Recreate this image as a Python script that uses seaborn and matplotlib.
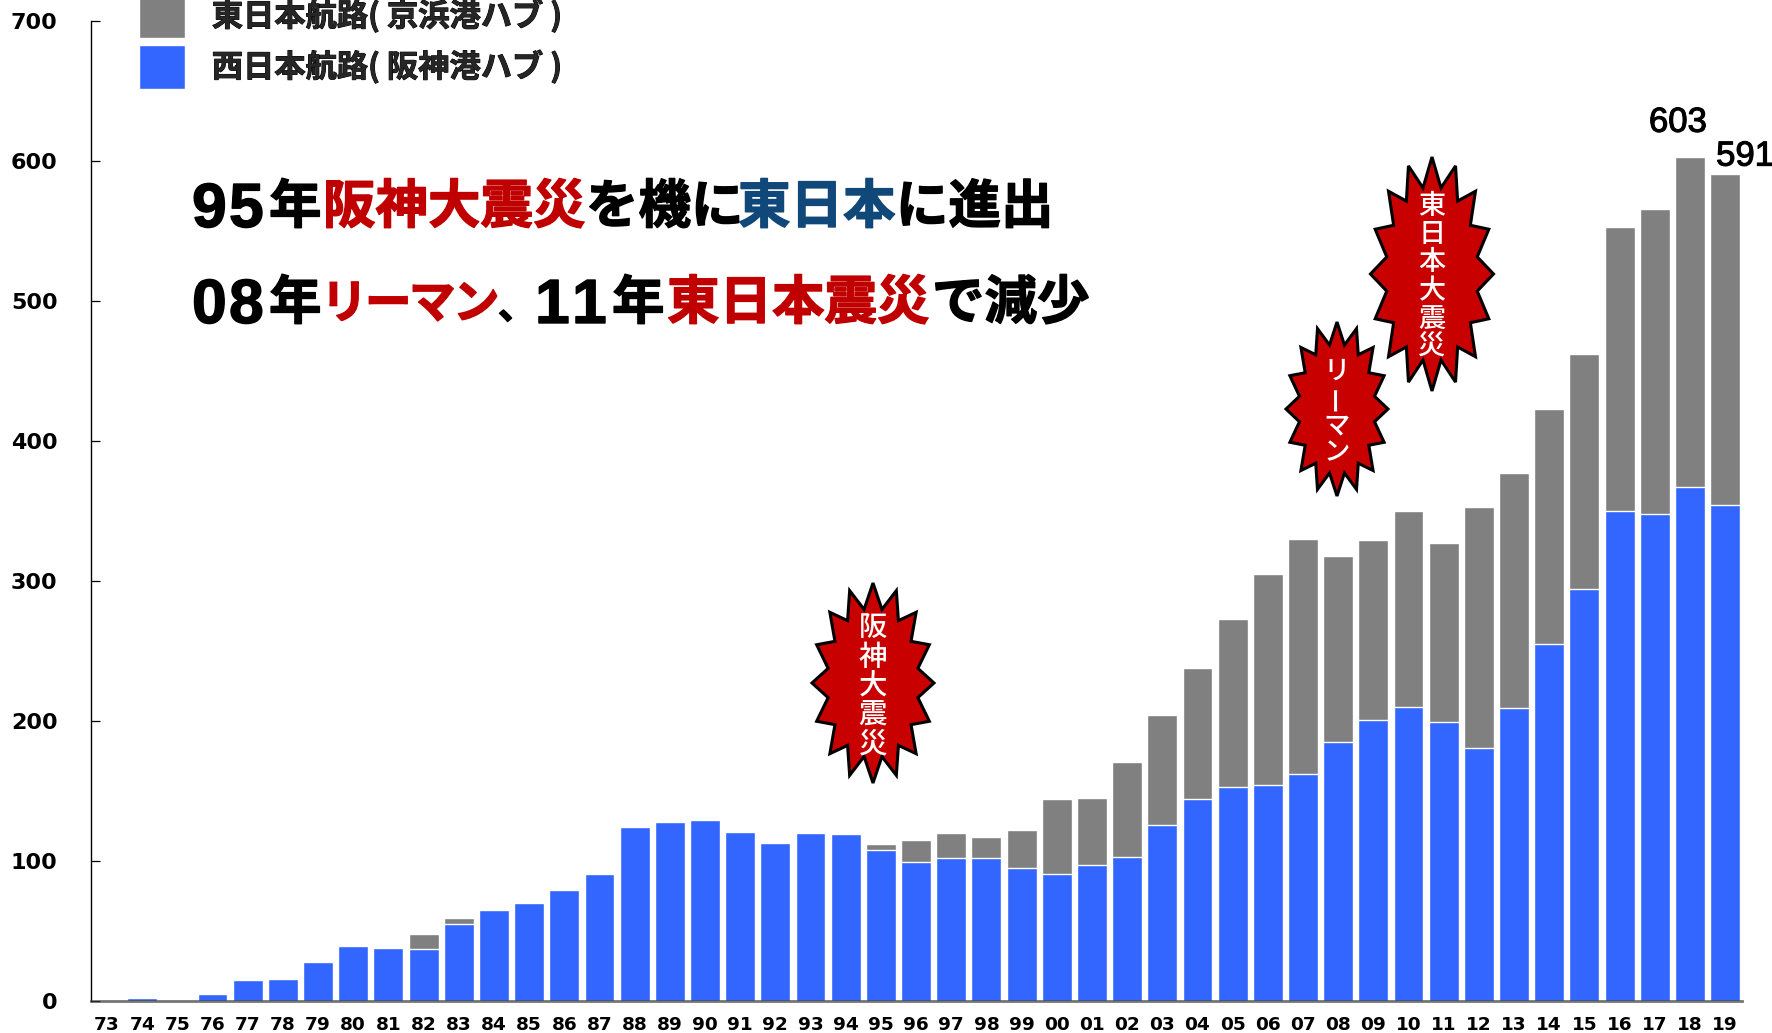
import matplotlib
matplotlib.use("Agg")
import numpy as np
import pandas as pd
import matplotlib.pyplot as plt
import matplotlib.patheffects as pe
import seaborn as sns
from matplotlib.patches import Polygon

# Container throughput by fiscal year
years = ["73","74","75","76","77","78","79","80","81","82","83","84","85","86","87","88",
         "89","90","91","92","93","94","95","96","97","98","99","00","01","02","03","04",
         "05","06","07","08","09","10","11","12","13","14","15","16","17","18","19"]
west = [1,2,1,5,15,16,28,39,38,37,55,65,70,79,91,124,
        128,129,121,113,120,119,108,99,102,102,95,91,97,103,126,144,
        153,154,162,185,201,210,199,181,209,255,294,350,348,367,354]
total = [1,2,1,5,15,16,28,39,38,48,59,65,70,79,91,124,
         128,129,121,113,120,120,112,115,120,117,122,144,145,171,204,238,
         273,305,330,318,329,350,327,353,377,423,462,553,566,603,591]
east_label = "東日本航路( 京浜港ハブ )"
west_label = "西日本航路( 阪神港ハブ )"
peak_labels = {"18": 603, "19": 591}

W, H = 1772, 1033
GRAY, BLUE, RED, NAVY = "#808080", "#3366FF", "#C00000", "#10487A"
CJK = ["Noto Sans CJK JP", "DejaVu Sans"]

sns.set_theme(style="ticks")
plt.rcParams["font.family"] = CJK

df = pd.DataFrame({"year": years, "west": west, "total": total})

fig = plt.figure(figsize=(W / 100, H / 100), dpi=100, facecolor="white")
ax = fig.add_axes([91 / W, 1 - 1001 / H, (1742 - 91) / W, (1001 - 21) / H])

sns.barplot(data=df, x="year", y="total", color=GRAY, saturation=1, width=0.85,
            label=east_label, ax=ax, zorder=2)
sns.barplot(data=df, x="year", y="west", color=BLUE, saturation=1, width=0.85,
            label=west_label, ax=ax, zorder=2)

ax.set_xlim(-0.455, len(years) - 0.52)
ax.set_ylim(0, 700)
ax.set_yticks(range(0, 701, 100))
ax.set_xlabel("")
ax.set_ylabel("")
sns.despine(ax=ax)
ax.spines["left"].set(color="black", linewidth=1.0)
ax.spines["bottom"].set(color="#3a3a3a", linewidth=2.0, alpha=0.7, zorder=5)
ax.tick_params(axis="y", direction="in", length=6.5, width=0.9, color="black", pad=24)
ax.tick_params(axis="x", length=0, pad=11)
for lab in ax.get_yticklabels():
    lab.set(family="DejaVu Sans", weight="bold", fontsize=16, color="black")
for lab in ax.get_xticklabels():
    lab.set(family="DejaVu Sans", weight="bold", fontsize=13.3, color="black")

leg = ax.legend(loc="upper left", bbox_to_anchor=(139 / W, 1 + 6 / H), bbox_transform=fig.transFigure,
                frameon=False, borderpad=0, borderaxespad=0, handlelength=1.47, handleheight=1.79,
                labelspacing=0.22, handletextpad=0.86,
                prop={"family": CJK, "weight": "bold", "size": 22.5})
for t in leg.get_texts():
    t.set_path_effects([pe.withStroke(linewidth=0.7, foreground="black")])

# Value labels over the two most recent years
for (yr, val), dx, dy in zip(peak_labels.items(), (-12, 20), (25, 8)):
    ax.annotate(str(val), xy=(years.index(yr), val), xytext=(dx / 1.389, dy / 1.389),
                textcoords="offset points", ha="center", va="baseline",
                family="Liberation Sans", fontsize=25, color="black",
                annotation_clip=False,
                path_effects=[pe.withStroke(linewidth=0.8, foreground="black")])

# Full-figure overlay in pixel coordinates for headline text and burst callouts
ov = fig.add_axes([0, 0, 1, 1], zorder=10)
ov.set_xlim(0, W)
ov.set_ylim(H, 0)
ov.axis("off")
ov.patch.set_alpha(0)


def run(x, base, text, color="black", digits=False, size=37.8):
    stroke = [pe.withStroke(linewidth=1.0, foreground=color)]
    if digits:
        ov.text(x, base + 4, text, color=color, family="Liberation Sans", weight="bold",
                fontsize=45, va="baseline", ha="left", path_effects=stroke)
    else:
        ov.text(x, base, text, color=color, family=CJK, weight="bold",
                fontsize=size, va="baseline", ha="left", path_effects=stroke)


def spaced_digits(x, base, text):
    for i, ch in enumerate(text):
        run(x + i * 37, base, ch, digits=True)


spaced_digits(192, 223, "95")
run(269, 223, "年")
run(323, 223, "阪神大震災", RED)
run(586, 223, "を機に")
run(738, 223, "東日本", NAVY)
run(896, 223, "に進出")

spaced_digits(192, 319, "08")
run(269, 319, "年")
# Katakana sits tighter than the kanji, so it is set one glyph at a time
for i, ch in enumerate("リーマン"):
    run(321 + i * 44, 318, ch, RED, size=33.5)
run(498, 319, "、", size=27)
spaced_digits(535, 319, "11")
run(612, 319, "年")
run(667, 319, "東日本震災", RED)
run(932, 319, "で減少")


def burst(cx, cy, rx, ry, chars, step, size=20.5, dy=3, n=16, inner=0.75):
    ang = np.arange(2 * n) * np.pi / n
    rad = np.where(np.arange(2 * n) % 2 == 0, 1.0, inner)
    pts = np.column_stack([cx + rx * rad * np.sin(ang), cy - ry * rad * np.cos(ang)])
    ov.add_patch(Polygon(pts, closed=True, facecolor="#C80000", edgecolor="black",
                         linewidth=2.2, joinstyle="miter"))
    y0 = cy + dy - step * (len(chars) - 1) / 2
    for i, ch in enumerate(chars):
        ov.text(cx, y0 + i * step, ch, color="white", family=CJK, fontsize=size, weight="medium",
                ha="center", va="center", rotation=90 if ch == "ー" else 0)


burst(873, 683, 61, 100, "阪神大震災", 29)
burst(1337, 409, 51, 87, "リーマン", 27.5, size=19)
burst(1432, 274, 61.5, 117, "東日本大震災", 28, size=19.5)

fig.savefig("out.png", dpi=100, facecolor="white")
